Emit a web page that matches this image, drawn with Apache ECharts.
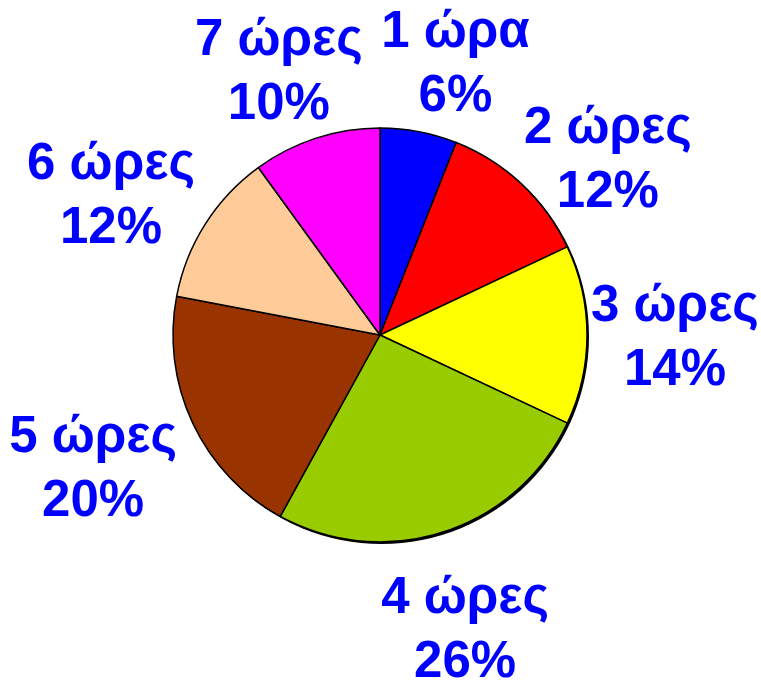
<!DOCTYPE html>
<html>
<head>
<meta charset="utf-8">
<style>
  html, body { margin: 0; padding: 0; background: #ffffff; }
  #chart { width: 761px; height: 682px; }
</style>
<script src="https://cdn.jsdelivr.net/npm/echarts@6/dist/echarts.min.js"></script>
</head>
<body>
<div id="chart"></div>
<script>
// Hours of daily use and the share of respondents for each
const categories = ['1 ώρα', '2 ώρες', '3 ώρες', '4 ώρες', '5 ώρες', '6 ώρες', '7 ώρες'];
const shares = [6, 12, 14, 26, 20, 12, 10];
const sliceColors = ['#0000FF', '#FF0000', '#FFFF00', '#99CC00', '#993300', '#FFCC99', '#FF00FF'];

// Pie geometry
const CX = 380, CY = 335, R = 207;
const LABEL_GAP = 4;
// small per-label adjustments so neighbouring labels spread like a best-fit layout
const labelNudge = [[22, 0], [26, 26], [0, 4], [-6, 34], [-20, 18], [-20, 9], [-10, -1]];

const total = shares.reduce((a, b) => a + b, 0);
const midAngles = [];
{
  let acc = 0;
  shares.forEach(v => {
    midAngles.push(((acc + v / 2) / total) * 2 * Math.PI);
    acc += v;
  });
}

const chart = echarts.init(document.getElementById('chart'), null, { renderer: 'canvas' });

chart.setOption({
  backgroundColor: '#ffffff',
  animation: false,
  series: [
    {
      // soft drop edge under the whole pie
      type: 'pie',
      z: 1,
      center: [CX + 1.5, CY + 1.5],
      radius: R + 0.5,
      silent: true,
      label: { show: false },
      labelLine: { show: false },
      itemStyle: { color: '#000000', borderWidth: 0 },
      data: [{ name: 'edge', value: total }]
    },
    {
      type: 'pie',
      z: 2,
      center: [CX, CY],
      radius: R,
      startAngle: 90,
      clockwise: true,
      avoidLabelOverlap: false,
      silent: true,
      data: categories.map((name, i) => ({
        name,
        value: shares[i],
        itemStyle: { color: sliceColors[i] }
      })),
      itemStyle: {
        borderColor: '#000000',
        borderWidth: 1.5
      },
      label: {
        show: true,
        position: 'outside',
        formatter: p => p.name + '\n' + p.value + '%',
        color: '#0000FF',
        fontFamily: '"Liberation Sans", Arial, sans-serif',
        fontWeight: 'bold',
        fontSize: 51,
        lineHeight: 64,
        align: 'center'
      },
      labelLine: { show: false },
      labelLayout: params => {
        const i = params.dataIndex;
        const a = midAngles[i];
        const ux = Math.sin(a), uy = -Math.cos(a);
        const w = params.labelRect.width, h = params.labelRect.height;
        return {
          x: CX + ux * (R + LABEL_GAP) + ux * w / 2 + labelNudge[i][0],
          y: CY + uy * (R + LABEL_GAP) + uy * h / 2 + labelNudge[i][1],
          align: 'center',
          verticalAlign: 'middle'
        };
      }
    }
  ]
});
</script>
</body>
</html>
